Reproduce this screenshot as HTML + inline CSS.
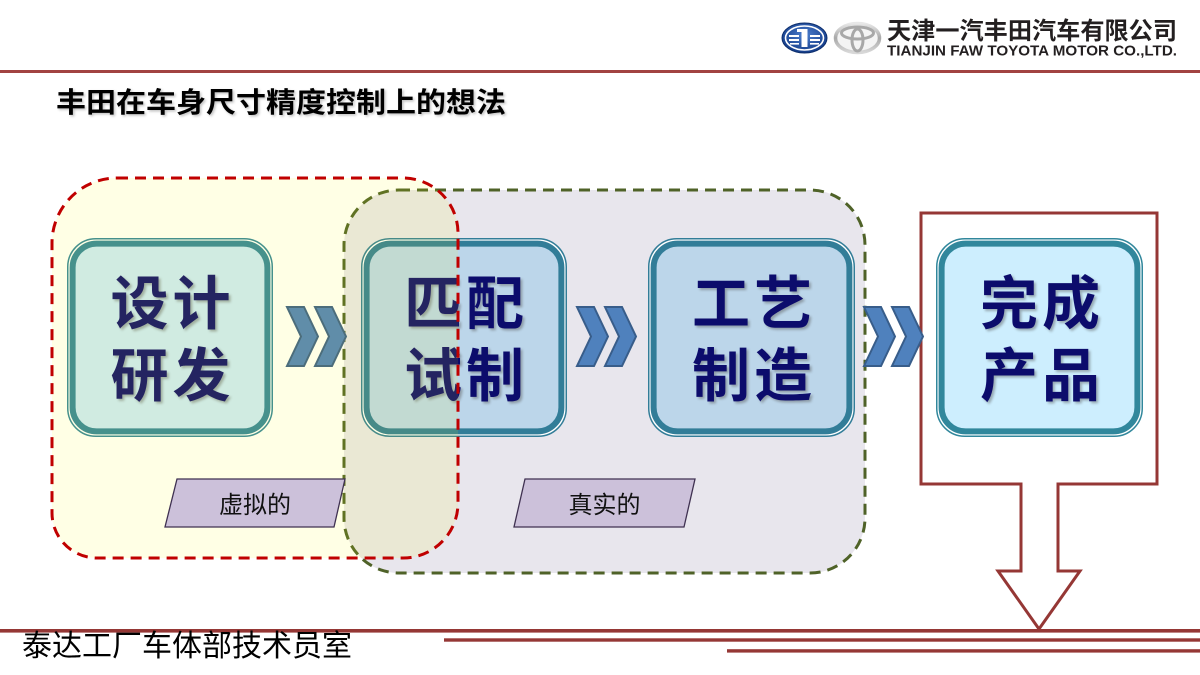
<!DOCTYPE html>
<html><head><meta charset="utf-8"><style>
html,body{margin:0;padding:0;background:#fff;}
svg{display:block;}
</style></head><body>
<svg width="1200" height="675" viewBox="0 0 1200 675" xmlns="http://www.w3.org/2000/svg" font-family="'Liberation Sans','Noto Sans CJK SC',sans-serif">
<defs>
<radialGradient id="faw" cx="50%" cy="40%" r="60%"><stop offset="0" stop-color="#4d7fcf"/><stop offset="1" stop-color="#123a86"/></radialGradient>
<linearGradient id="silver" x1="0" y1="0" x2="0" y2="1"><stop offset="0" stop-color="#e8e8e8"/><stop offset="0.5" stop-color="#a9a9a9"/><stop offset="1" stop-color="#d8d8d8"/></linearGradient>
<filter id="sh" x="-10%" y="-10%" width="130%" height="130%"><feGaussianBlur stdDeviation="1.2"/></filter>
</defs>

<!-- header logos -->
<ellipse cx="804.5" cy="38" rx="22.5" ry="15" fill="url(#faw)" stroke="#0c2d6b" stroke-width="1"/>
<ellipse cx="804.5" cy="38" rx="19" ry="12" fill="none" stroke="#fff" stroke-width="1.6"/>
<rect x="801.5" y="29" width="6" height="18" fill="#fff"/>
<rect x="797" y="29" width="8" height="3" fill="#fff"/>
<rect x="789" y="35" width="10" height="2" fill="#fff"/><rect x="789" y="39" width="10" height="2" fill="#fff"/><rect x="790" y="43" width="9" height="1.6" fill="#fff"/>
<rect x="810" y="35" width="10" height="2" fill="#fff"/><rect x="810" y="39" width="10" height="2" fill="#fff"/><rect x="810" y="43" width="9" height="1.6" fill="#fff"/>
<ellipse cx="857.5" cy="38" rx="22" ry="14.5" fill="#f4f4f4" stroke="url(#silver)" stroke-width="3.5"/>
<ellipse cx="857.5" cy="33" rx="16" ry="6" fill="none" stroke="#a8a8a8" stroke-width="3"/>
<ellipse cx="857.5" cy="40" rx="5.5" ry="11" fill="none" stroke="#a8a8a8" stroke-width="3"/>
<text x="887" y="39" font-size="24" font-weight="700" fill="#231f20" textLength="290" lengthAdjust="spacingAndGlyphs">天津一汽丰田汽车有限公司</text>
<text x="887" y="55.5" font-size="15" font-weight="700" fill="#231f20" textLength="290" lengthAdjust="spacingAndGlyphs">TIANJIN FAW TOYOTA MOTOR CO.,LTD.</text>

<rect x="0" y="70" width="1200" height="3" fill="#a24341"/>

<!-- title -->
<text x="57.5" y="113.5" font-size="28" font-weight="700" fill="#999" opacity="0.6" textLength="450" lengthAdjust="spacingAndGlyphs" filter="url(#sh)">丰田在车身尺寸精度控制上的想法</text>
<text x="56" y="112" font-size="28" font-weight="700" fill="#000" textLength="450" lengthAdjust="spacingAndGlyphs">丰田在车身尺寸精度控制上的想法</text>

<!-- gray region (green dashed) -->
<path d="M399,190 H810 A55,55 0 0 1 865,245 V518 A55,55 0 0 1 810,573 H399 A55,55 0 0 1 344,518 V245 A55,55 0 0 1 399,190 Z" fill="#e8e6ed" stroke="#4f6228" stroke-width="3" stroke-dasharray="11 7"/>

<!-- arrow shape -->
<path d="M921,213 H1157 V484 H1058 V571 H1080 L1039,629 L998,571 H1021 V484 H921 Z" fill="#fff" stroke="#953735" stroke-width="3" stroke-linejoin="miter"/>

<!-- boxes -->
<g>
<!-- box1 -->
<rect x="67.75" y="238.75" width="204.5" height="197.5" rx="28" fill="#fff" stroke="#31859c" stroke-width="1.5"/>
<rect x="72.6" y="243.6" width="194.8" height="187.8" rx="24" fill="#cbe9fb" stroke="#31859c" stroke-width="6"/>
<!-- box2 -->
<rect x="361.75" y="238.75" width="204.5" height="197.5" rx="28" fill="#fff" stroke="#327d98" stroke-width="1.5"/>
<rect x="366.6" y="243.6" width="194.8" height="187.8" rx="24" fill="#bcd6ea" stroke="#327d98" stroke-width="6"/>
<!-- box3 -->
<rect x="648.75" y="238.75" width="205.5" height="197.5" rx="28" fill="#fff" stroke="#327d98" stroke-width="1.5"/>
<rect x="653.6" y="243.6" width="195.8" height="187.8" rx="24" fill="#bcd6ea" stroke="#327d98" stroke-width="6"/>
<!-- box4 -->
<rect x="936.75" y="238.75" width="205.5" height="197.5" rx="28" fill="#fff" stroke="#31879c" stroke-width="1.5"/>
<rect x="941.6" y="243.6" width="195.8" height="187.8" rx="24" fill="#cdeefe" stroke="#31879c" stroke-width="6"/>
</g>

<!-- box texts shadows -->
<g font-size="58" font-weight="700" text-anchor="middle" fill="#555" opacity="0.45" filter="url(#sh)">
<text x="141.5" y="326">设</text><text x="203.5" y="326">计</text>
<text x="141.5" y="398">研</text><text x="203.5" y="398">发</text>
<text x="435" y="326">匹</text><text x="497" y="326">配</text>
<text x="435" y="398">试</text><text x="497" y="398">制</text>
<text x="723" y="326">工</text><text x="785" y="326">艺</text>
<text x="723" y="398">制</text><text x="785" y="398">造</text>
<text x="1011" y="326">完</text><text x="1073" y="326">成</text>
<text x="1011" y="398">产</text><text x="1073" y="398">品</text>
</g>
<g font-size="58" font-weight="700" text-anchor="middle" fill="#0c0c6c">
<text x="139.5" y="324">设</text><text x="201.5" y="324">计</text>
<text x="139.5" y="396">研</text><text x="201.5" y="396">发</text>
<text x="433" y="324">匹</text><text x="495" y="324">配</text>
<text x="433" y="396">试</text><text x="495" y="396">制</text>
<text x="721" y="324">工</text><text x="783" y="324">艺</text>
<text x="721" y="396">制</text><text x="783" y="396">造</text>
<text x="1009" y="324">完</text><text x="1071" y="324">成</text>
<text x="1009" y="396">产</text><text x="1071" y="396">品</text>
</g>

<!-- chevrons -->
<g fill="#4f81bd" stroke="#385d8a" stroke-width="2" stroke-linejoin="miter">
<polygon points="287,307 304,307 318,336.5 304,366 287,366 301,336.5"/>
<polygon points="315,307 332,307 346,336.5 332,366 315,366 329,336.5"/>
<polygon points="577,307 594,307 608,336.5 594,366 577,366 591,336.5"/>
<polygon points="605,307 622,307 636,336.5 622,366 605,366 619,336.5"/>
<polygon points="864,307 881,307 895,336.5 881,366 864,366 878,336.5"/>
<polygon points="892,307 909,307 923,336.5 909,366 892,366 906,336.5"/>
</g>

<!-- yellow region (red dashed) overlay -->
<path d="M117,178 H403 A55,55 0 0 1 458,233 V503 A55,55 0 0 1 403,558 H97 A45,45 0 0 1 52,513 V243 A65,65 0 0 1 117,178 Z" fill="rgba(255,255,0,0.1)" stroke="#c00000" stroke-width="3" stroke-dasharray="11 7"/>

<!-- labels -->
<polygon points="177,479 345,479 334,527 165,527" fill="#ccc1da" stroke="#3f3151" stroke-width="1.3"/>
<polygon points="525,479 695,479 684,527 514,527" fill="#ccc1da" stroke="#3f3151" stroke-width="1.3"/>
<text x="255" y="513" font-size="24" text-anchor="middle" fill="#111">虚拟的</text>
<text x="604.5" y="513" font-size="24" text-anchor="middle" fill="#111">真实的</text>

<!-- footer lines -->
<rect x="0" y="629" width="1200" height="3.6" fill="#953735"/>
<rect x="444" y="638.3" width="756" height="3.4" fill="#953735"/>
<rect x="727" y="649.2" width="473" height="3.4" fill="#953735"/>
<text x="22" y="656" font-size="30" fill="#000">泰达工厂车体部技术员室</text>
</svg>
</body></html>
